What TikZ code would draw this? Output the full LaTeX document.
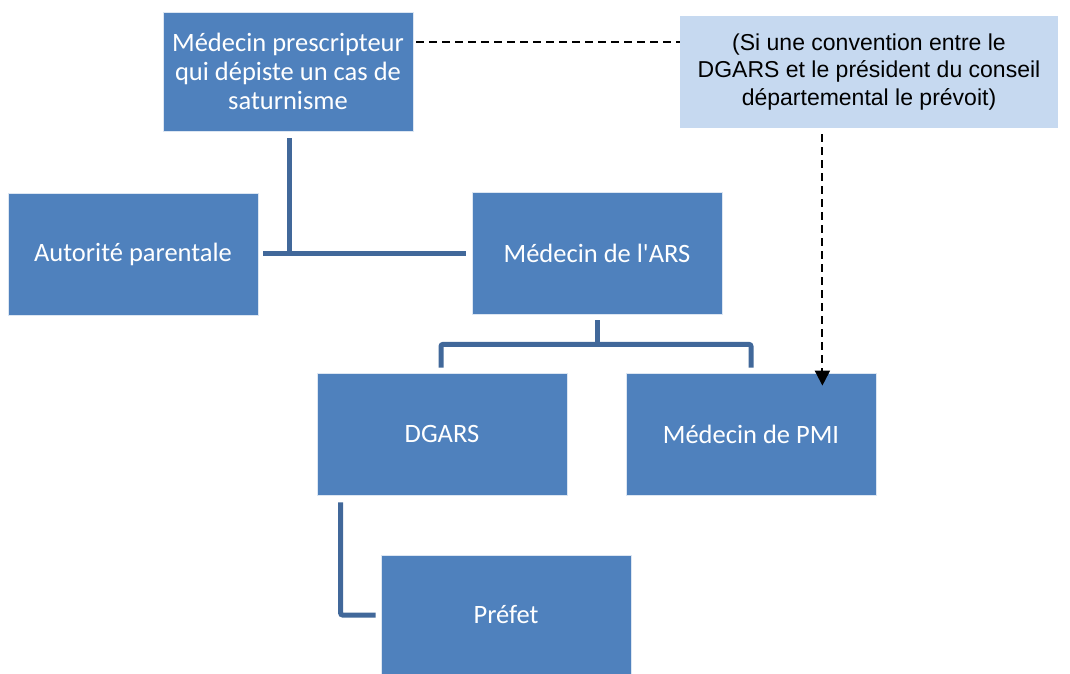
\documentclass[tikz,border=0pt]{standalone}
\usepackage{fontspec}
\setmainfont{Carlito}
\newfontfamily\calib{Carlito}
\newfontfamily\arialf{Liberation Sans}
\usetikzlibrary{arrows.meta}
\definecolor{boxblue}{HTML}{4F81BD}
\definecolor{connblue}{HTML}{41689A}
\definecolor{noteblue}{HTML}{C6D9F0}
\definecolor{edgeblue}{HTML}{DCE6F2}
\tikzset{
  bluebox/.style={rectangle, fill=boxblue, draw=edgeblue, line width=0.8pt, text=white,
    font=\calib\fontsize{26.5}{29}\selectfont, align=center, inner sep=0pt},
  notebox/.style={rectangle, fill=noteblue, draw=none, text=black,
    font=\arialf\fontsize{23}{27.5}\selectfont, align=center, inner sep=0pt},
  conn/.style={draw=connblue, line width=5pt},
  dsh/.style={draw=black, line width=2pt, dash pattern=on 8pt off 5pt},
}
\begin{document}
\begin{tikzpicture}[x=1pt,y=-1pt]
\useasboundingbox (0,0) rectangle (1070,673);
\node[bluebox, minimum width=250pt, minimum height=119pt] (top) at (288,71.5)
  {Médecin prescripteur\\qui dépiste un cas de\\saturnisme};
\node[notebox, minimum width=378pt, minimum height=112pt] (note) at (869,72)
  {(Si une convention entre le\\DGARS et le président du conseil\\départemental le prévoit)};
\node[bluebox, minimum width=250pt, minimum height=122pt] (aut) at (133,254) {Autorité parentale};
\node[bluebox, minimum width=250pt, minimum height=122pt] (ars) at (597,253) {Médecin de l'ARS};
\node[bluebox, minimum width=250pt, minimum height=122pt] (dgars) at (442,434) {DGARS};
\node[bluebox, minimum width=250pt, minimum height=122pt] (pmi) at (751,434) {Médecin de PMI};
\node[bluebox, minimum width=250pt, minimum height=120pt] (prefet) at (506,615) {Préfet};
% connectors
\draw[conn] ([xshift=1pt,yshift=-7pt]top.south) -- ([xshift=1pt]top.south |- ars.west);
\draw[conn] ([xshift=5pt]aut.east |- ars.west) -- ([xshift=-6pt]ars.west);
\coordinate (mid) at ([yshift=-30pt]ars.south);
\draw[conn] ([yshift=-6pt]ars.south) -- (mid);
\draw[conn, rounded corners=2pt] ([xshift=-1pt,yshift=5pt]dgars.north) |- (mid) -| ([yshift=5pt]pmi.north);
\draw[conn, rounded corners=2pt] ([xshift=24pt,yshift=-7pt]dgars.south west) |- ([xshift=-5pt]prefet.west);
% dashed
\draw[dsh] ([xshift=3pt,yshift=-30pt]top.north east) -- ([yshift=-30pt]top.north east -| note.west);
\coordinate (ar) at ([xshift=-54pt,yshift=-13pt]pmi.north east);
\draw[dsh, -{Triangle[length=15pt,width=15pt]}] ([yshift=-6pt]note.south -| ar) -- (ar);
\end{tikzpicture}
\end{document}
